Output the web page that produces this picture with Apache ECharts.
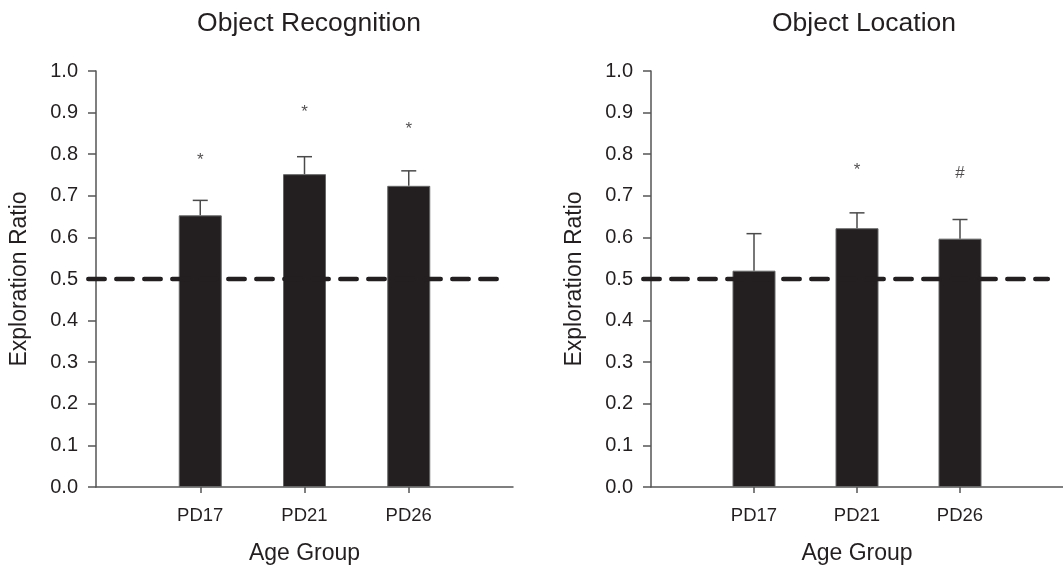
<!DOCTYPE html>
<html>
<head>
<meta charset="utf-8">
<script src="https://cdn.jsdelivr.net/npm/echarts@6/dist/echarts.min.js"></script>
<style>
  html, body { margin: 0; padding: 0; background: #fff; }
  #chart { width: 1063px; height: 572px; }
</style>
</head>
<body>
<div id="chart"></div>
<script>
// data
const categories = ['PD17', 'PD21', 'PD26']
const catPos = [1, 2, 3]
const recogMean = [0.653, 0.752, 0.724]
const recogSem = [0.036, 0.042, 0.036]
const recogMark = ['*', '*', '*']
const recogMarkY = [0.79, 0.905, 0.865]
const locMean = [0.52, 0.622, 0.597]
const locSem = [0.089, 0.037, 0.046]
const locMark = ['', '*', '#']
const locMarkY = [null, 0.767, 0.758]
const chance = 0.5

const ink = '#231f20'
const axisGray = '#555'
const font = 'Liberation Sans, Arial, sans-serif'

const chart = echarts.init(document.getElementById('chart'))

function xAxisOf(idx) {
  return {
    type: 'value', gridIndex: idx, min: 0, max: 4, interval: 1,
    name: 'Age Group', nameLocation: 'middle', nameGap: 55,
    nameTextStyle: { color: ink, fontSize: 23, fontFamily: font },
    axisLine: { show: true, lineStyle: { color: axisGray, width: 1.5 } },
    axisTick: { show: true, customValues: catPos, length: 6, lineStyle: { color: axisGray, width: 1.5 } },
    axisLabel: {
      customValues: catPos, color: ink, fontSize: 18.5, fontFamily: font, margin: 19,
      formatter: v => categories[Math.round(v) - 1] || ''
    },
    splitLine: { show: false }
  }
}

function yAxisOf(idx) {
  return {
    type: 'value', gridIndex: idx, min: 0, max: 1, interval: 0.1,
    name: 'Exploration Ratio', nameLocation: 'middle', nameGap: 65,
    nameTextStyle: { color: ink, fontSize: 23, fontFamily: font },
    axisLine: { show: true, lineStyle: { color: axisGray, width: 1.5 } },
    axisTick: { show: true, inside: false, length: 8, lineStyle: { color: axisGray, width: 1.5 } },
    axisLabel: { color: ink, fontSize: 20, fontFamily: font, margin: 18, formatter: v => v.toFixed(1) },
    splitLine: { show: false }
  }
}

function barSeries(idx, mean) {
  return {
    type: 'bar', xAxisIndex: idx, yAxisIndex: idx, barWidth: 43,
    itemStyle: { color: ink, borderColor: '#666', borderWidth: 1 },
    data: mean.map((m, i) => [catPos[i], m]),
    z: 2
  }
}

function errSeries(idx, mean, sem) {
  return {
    type: 'custom', xAxisIndex: idx, yAxisIndex: idx, z: 3,
    data: mean.map((m, i) => [catPos[i], m, m + sem[i]]),
    renderItem: (params, api) => {
      const base = api.coord([api.value(0), api.value(1)])
      const top = api.coord([api.value(0), api.value(2)])
      const style = { stroke: '#4a4a4a', lineWidth: 1.5 }
      return {
        type: 'group',
        children: [
          { type: 'line', shape: { x1: base[0], y1: base[1], x2: top[0], y2: top[1] }, style },
          { type: 'line', shape: { x1: top[0] - 7.5, y1: top[1], x2: top[0] + 7.5, y2: top[1] }, style }
        ]
      }
    }
  }
}

function chanceSeries(idx) {
  return {
    type: 'custom', xAxisIndex: idx, yAxisIndex: idx, z: 4, clip: false,
    data: [[0, chance, 3.875]],
    renderItem: (params, api) => {
      const a = api.coord([api.value(0), api.value(1)])
      const b = api.coord([api.value(2), api.value(1)])
      return {
        type: 'line',
        shape: { x1: a[0] - 10 + 2.3, y1: a[1], x2: b[0] - 2.3, y2: b[1] },
        style: { stroke: ink, lineWidth: 4.5, lineDash: [16.4, 11.6], lineCap: 'round' }
      }
    }
  }
}

function markSeries(idx, marks, ys) {
  return {
    type: 'scatter', xAxisIndex: idx, yAxisIndex: idx, symbolSize: 1, z: 5,
    itemStyle: { color: 'rgba(0,0,0,0)' },
    data: marks.map((t, i) => ({ value: [catPos[i], ys[i]], label: { formatter: t } })).filter(d => d.value[1] != null),
    label: { show: true, position: 'inside', color: ink, fontSize: 17, fontFamily: font, offset: [0, 2] }
  }
}

chart.setOption({
  animation: false,
  backgroundColor: '#fff',
  title: [
    { text: 'Object Recognition', left: 304, top: 5, textAlign: 'center',
      textStyle: { color: ink, fontSize: 26.5, fontWeight: 'normal', fontFamily: font } },
    { text: 'Object Location', left: 859, top: 5, textAlign: 'center',
      textStyle: { color: ink, fontSize: 26.5, fontWeight: 'normal', fontFamily: font } }
  ],
  grid: [
    { left: 96, top: 71, width: 417, bottom: 85 },
    { left: 651, top: 71, width: 416, bottom: 85 }
  ],
  xAxis: [xAxisOf(0), xAxisOf(1)],
  yAxis: [yAxisOf(0), yAxisOf(1)],
  series: [
    barSeries(0, recogMean), errSeries(0, recogMean, recogSem), chanceSeries(0), markSeries(0, recogMark, recogMarkY),
    barSeries(1, locMean), errSeries(1, locMean, locSem), chanceSeries(1), markSeries(1, locMark, locMarkY)
  ]
})
</script>
</body>
</html>
